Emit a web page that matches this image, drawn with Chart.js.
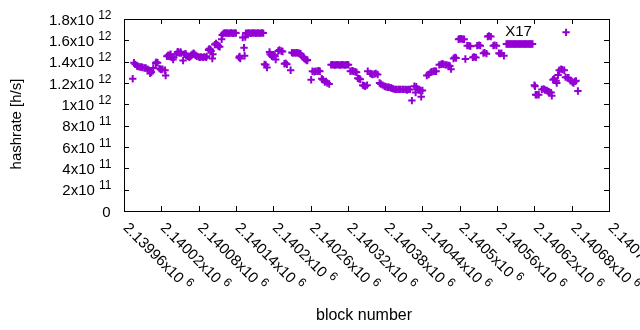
<!DOCTYPE html>
<html>
<head>
<meta charset="utf-8">
<script src="https://cdn.jsdelivr.net/npm/chart.js@4.4.0/dist/chart.umd.min.js"></script>
<style>
html, body { margin: 0; padding: 0; background: #fff; }
</style>
</head>
<body>
<canvas id="hashChart" width="640" height="330"></canvas>
<script>
// block numbers (x) and estimated hashrate in 10^12 h/s (y)
const blockNumbers = [
   2139974, 2139976, 2139978, 2139981, 2139983, 2139986, 2139988, 2139990, 2139993, 2139995,
   2139998, 2140000, 2140002, 2140003, 2140004, 2140007, 2140011, 2140012, 2140014, 2140017,
   2140019, 2140020, 2140022, 2140026, 2140027, 2140029, 2140031, 2140032, 2140034, 2140035,
   2140037, 2140039, 2140040, 2140044, 2140046, 2140047, 2140049, 2140051, 2140052, 2140055,
   2140057, 2140059, 2140060, 2140062, 2140064, 2140065, 2140067, 2140068, 2140070, 2140072,
   2140073, 2140075, 2140077, 2140080, 2140082, 2140084, 2140087, 2140089, 2140092, 2140093,
   2140096, 2140097, 2140099, 2140100, 2140102, 2140103, 2140106, 2140108, 2140109, 2140111,
   2140112, 2140114, 2140117, 2140118,
   2140120, 2140122, 2140124, 2140126, 2140128, 2140130, 2140132, 2140134, 2140136, 2140138, 2140140,
   2140145, 2140146, 2140147, 2140151, 2140153, 2140154, 2140155,
   2140156, 2140158, 2140160, 2140162, 2140164, 2140166, 2140168, 2140170, 2140172, 2140174,
   2140176, 2140178, 2140180, 2140182, 2140184,
   2140186, 2140188, 2140190, 2140194, 2140195, 2140197, 2140198, 2140200, 2140202, 2140203, 2140204,
   2140208, 2140210, 2140213, 2140215, 2140218, 2140220, 2140222, 2140228,
   2140230, 2140232, 2140234, 2140236, 2140238, 2140240, 2140242, 2140244,
   2140247, 2140249, 2140250, 2140252, 2140254, 2140255, 2140261, 2140263, 2140266, 2140268, 2140271, 2140273, 2140275,
   2140278, 2140280, 2140283, 2140285, 2140287, 2140290,
   2140293, 2140295, 2140297, 2140299, 2140301, 2140303, 2140305, 2140307, 2140309, 2140311,
   2140313, 2140315, 2140317, 2140319, 2140321,
   2140324, 2140327, 2140329, 2140332, 2140334, 2140336, 2140338, 2140340, 2140344, 2140346, 2140348, 2140351, 2140352,
   2140356, 2140358, 2140360, 2140363, 2140365, 2140368, 2140371, 2140373, 2140376, 2140379,
   2140381, 2140384, 2140386, 2140389, 2140391, 2140393, 2140396, 2140398, 2140401, 2140403,
   2140405, 2140408, 2140410, 2140413, 2140415, 2140417, 2140420, 2140423, 2140427, 2140429,
   2140430, 2140433, 2140435, 2140437, 2140438, 2140440, 2140447, 2140450,
   2140453, 2140455, 2140458, 2140460, 2140462,
   2140467, 2140470, 2140472, 2140474, 2140477, 2140479, 2140482, 2140484, 2140486,
   2140490, 2140492, 2140494,
   2140498, 2140500, 2140502, 2140505, 2140507, 2140509,
   2140512, 2140515, 2140517, 2140521, 2140523, 2140526, 2140528, 2140531, 2140533,
   2140538, 2140540, 2140543, 2140545, 2140547, 2140550, 2140554, 2140556, 2140559, 2140563, 2140565, 2140567, 2140571,
   2140575, 2140577, 2140579, 2140581, 2140583, 2140585, 2140587, 2140589, 2140591, 2140593, 2140595,
   2140597, 2140599, 2140601, 2140603, 2140605, 2140607, 2140609, 2140611, 2140613, 2140615, 2140617,
   2140620, 2140621, 2140622, 2140624, 2140627, 2140632, 2140635, 2140637, 2140640, 2140642, 2140644, 2140647, 2140648,
   2140650, 2140652, 2140655, 2140656, 2140658, 2140660, 2140663, 2140665, 2140668, 2140670, 2140671, 2140673, 2140675,
   2140678, 2140681, 2140683, 2140685, 2140687, 2140690,
];

let hashrateTera = [
   1.24, 1.39, 1.375, 1.36, 1.355, 1.35, 1.35, 1.345, 1.34, 1.34,
   1.33, 1.32, 1.29, 1.31, 1.30, 1.34, 1.385, 1.395, 1.39, 1.335,
   1.33, 1.325, 1.33, 1.32, 1.27, 1.45, 1.46, 1.45, 1.46, 1.47,
   1.44, 1.42, 1.44, 1.47, 1.49, 1.49, 1.48, 1.49, 1.48, 1.41,
   1.47, 1.475, 1.46, 1.45, 1.45, 1.44, 1.45, 1.46, 1.47, 1.48,
   1.47, 1.46, 1.45, 1.445, 1.44, 1.445, 1.44, 1.445, 1.44, 1.45,
   1.51, 1.52, 1.515, 1.50, 1.43, 1.47, 1.56, 1.57, 1.56, 1.555,
   1.545, 1.54, 1.61, 1.65,
   1.665, 1.67, 1.668, 1.67, 1.665, 1.668, 1.67, 1.668, 1.665, 1.67, 1.668,
   1.44, 1.45, 1.43, 1.626, 1.53, 1.455, 1.63,
   1.668, 1.665, 1.67, 1.668, 1.665, 1.67, 1.668, 1.67, 1.665, 1.668,
   1.67, 1.665, 1.668, 1.67, 1.668,
   1.375, 1.37, 1.345, 1.49, 1.47, 1.46, 1.45, 1.465, 1.46, 1.45, 1.42,
   1.50, 1.51, 1.50, 1.495, 1.38, 1.385, 1.375, 1.32,
   1.485, 1.48, 1.485, 1.48, 1.485, 1.48, 1.48, 1.475,
   1.445, 1.44, 1.43, 1.42, 1.41, 1.415, 1.23, 1.31, 1.305, 1.31, 1.31, 1.315, 1.31,
   1.24, 1.23, 1.21, 1.215, 1.20, 1.19,
   1.37, 1.372, 1.37, 1.368, 1.37, 1.372, 1.37, 1.368, 1.37, 1.372,
   1.37, 1.368, 1.37, 1.372, 1.37,
   1.31, 1.315, 1.31, 1.305, 1.30, 1.245, 1.24, 1.235, 1.18, 1.175, 1.17, 1.18, 1.31,
   1.29, 1.285, 1.28, 1.285, 1.29, 1.28, 1.20, 1.19, 1.18, 1.17,
   1.165, 1.16, 1.16, 1.155, 1.15, 1.145, 1.14, 1.14, 1.14, 1.14,
   1.14, 1.14, 1.14, 1.14, 1.135, 1.14, 1.14, 1.035, 1.17, 1.11,
   1.165, 1.14, 1.135, 1.13, 1.07, 1.13, 1.27, 1.28,
   1.30, 1.305, 1.31, 1.31, 1.31,
   1.37, 1.375, 1.38, 1.375, 1.37, 1.37, 1.365, 1.36, 1.33,
   1.43, 1.44, 1.435,
   1.61, 1.615, 1.615, 1.61, 1.61, 1.425,
   1.55, 1.55, 1.545, 1.44, 1.445, 1.44, 1.55, 1.555, 1.55,
   1.48, 1.485, 1.475, 1.635, 1.64, 1.635, 1.55, 1.555, 1.55, 1.48, 1.475, 1.48, 1.455,
   1.565, 1.565, 1.565, 1.565, 1.565, 1.565, 1.565, 1.565, 1.565, 1.565, 1.565,
   1.565, 1.565, 1.565, 1.565, 1.565, 1.565, 1.565, 1.565, 1.565, 1.565, 1.565,
   1.18, 1.17, 1.09, 1.09, 1.09, 1.14, 1.145, 1.135, 1.13, 1.12, 1.115, 1.11, 1.08,
   1.23, 1.24, 1.22, 1.20, 1.275, 1.32, 1.33, 1.325, 1.32, 1.255, 1.675, 1.25, 1.25,
   1.22, 1.21, 1.20, 1.215, 1.22, 1.125,
];

const blockMin = 2139960;
const blockMax = 2140740;
const blockStep = 60;
const rateMax = 1.8e12;
const rateStep = 2e11;

const forkText = "X17";
const forkBlock = 2140573;
const forkRate = 1.68e12;

const points = blockNumbers.map((b, i) => ({x: b, y: hashrateTera[i] * 1e12}));

const purple = "#9400d3";
const fontName = '"Liberation Sans", Arial, sans-serif';

// "2.1402x10^6" style parts
function sciParts(v) {
   if (v === 0) return ["0", ""];
   const e = Math.floor(Math.log10(v) + 1e-9);
   const m = parseFloat((v / Math.pow(10, e)).toPrecision(8));
   return [m + "x10", String(e)];
}

const gnuplotLook = {
   id: "gnuplotLook",
   afterDraw(chart) {
      const {ctx, chartArea: a, scales} = chart;
      const xs = scales.x, ys = scales.y;
      ctx.save();
      ctx.strokeStyle = "#000";
      ctx.fillStyle = "#000";
      ctx.lineWidth = 1;
      ctx.strokeRect(a.left + 0.5, a.top + 0.5, a.right - a.left, a.bottom - a.top);

      const tl = 5;
      ctx.beginPath();
      ys.ticks.forEach(t => {
         const py = Math.round(ys.getPixelForValue(t.value)) + 0.5;
         ctx.moveTo(a.left, py); ctx.lineTo(a.left + tl, py);
         ctx.moveTo(a.right, py); ctx.lineTo(a.right - tl, py);
      });
      xs.ticks.forEach(t => {
         const px = Math.round(xs.getPixelForValue(t.value)) + 0.5;
         ctx.moveTo(px, a.bottom); ctx.lineTo(px, a.bottom - tl);
         ctx.moveTo(px, a.top); ctx.lineTo(px, a.top + tl);
      });
      ctx.stroke();

      const mainFont = "15px " + fontName;
      const supFont = "12px " + fontName;

      // y tick labels
      ys.ticks.forEach(t => {
         const py = ys.getPixelForValue(t.value);
         const [main, sup] = sciParts(t.value);
         const right = a.left - 12.5;
         ctx.textBaseline = "alphabetic";
         ctx.textAlign = "left";
         if (!sup) {
            ctx.font = mainFont;
            ctx.fillText(main, right - ctx.measureText(main).width - 1, py + 5.5);
            return;
         }
         ctx.font = supFont;
         const sw = ctx.measureText(sup).width;
         ctx.fillText(sup, right - sw, py - 0.5);
         ctx.font = mainFont;
         const gap = ctx.measureText(" ").width;
         const mw = ctx.measureText(main).width;
         ctx.fillText(main, right - sw - gap - mw, py + 5.5);
      });

      // x tick labels, rotated down to the right
      xs.ticks.forEach(t => {
         const px = xs.getPixelForValue(t.value);
         const [main, sup] = sciParts(t.value);
         ctx.save();
         ctx.translate(px + 2, a.bottom + 14);
         ctx.rotate(Math.PI / 4);
         ctx.textAlign = "left";
         ctx.textBaseline = "alphabetic";
         ctx.font = mainFont;
         ctx.fillText(main, 0, 5);
         const mw = ctx.measureText(main + " ").width;
         ctx.font = supFont;
         ctx.fillText(sup, mw, -1);
         ctx.restore();
      });

      // axis titles
      ctx.textAlign = "center";
      ctx.textBaseline = "middle";
      ctx.font = "16px " + fontName;
      ctx.fillText("block number", 364, 316);
      ctx.font = "15px " + fontName;
      ctx.save();
      ctx.translate(17, 124);
      ctx.rotate(-Math.PI / 2);
      ctx.fillText("hashrate [h/s]", 0, 0);
      ctx.restore();

      // label
      ctx.textAlign = "left";
      ctx.fillText(forkText, xs.getPixelForValue(forkBlock), ys.getPixelForValue(forkRate));
      ctx.restore();
   },
};

const hashChart = new Chart(document.getElementById("hashChart"), {
   type: "scatter",
   data: {
      datasets: [
         {
            label: "hashrate",
            data: points,
            pointStyle: "cross",
            pointRadius: 3.7,
            pointHoverRadius: 3.7,
            pointBorderWidth: 2,
            pointBorderColor: purple,
            pointBackgroundColor: purple,
            borderColor: purple,
         },
      ],
   },
   options: {
      responsive: false,
      animation: false,
      devicePixelRatio: 1,
      layout: {padding: {top: 19, right: 31, left: 0, bottom: 0}},
      plugins: {
         legend: {display: false},
         tooltip: {enabled: false},
      },
      scales: {
         x: {
            type: "linear",
            min: blockMin,
            max: blockMax,
            ticks: {stepSize: blockStep, display: false},
            grid: {display: false},
            border: {display: false},
            afterFit(s) { s.height = 119; },
         },
         y: {
            min: 0,
            max: rateMax,
            ticks: {stepSize: rateStep, display: false},
            grid: {display: false},
            border: {display: false},
            afterFit(s) { s.width = 124; },
         },
      },
   },
   plugins: [gnuplotLook],
});
</script>
</body>
</html>
